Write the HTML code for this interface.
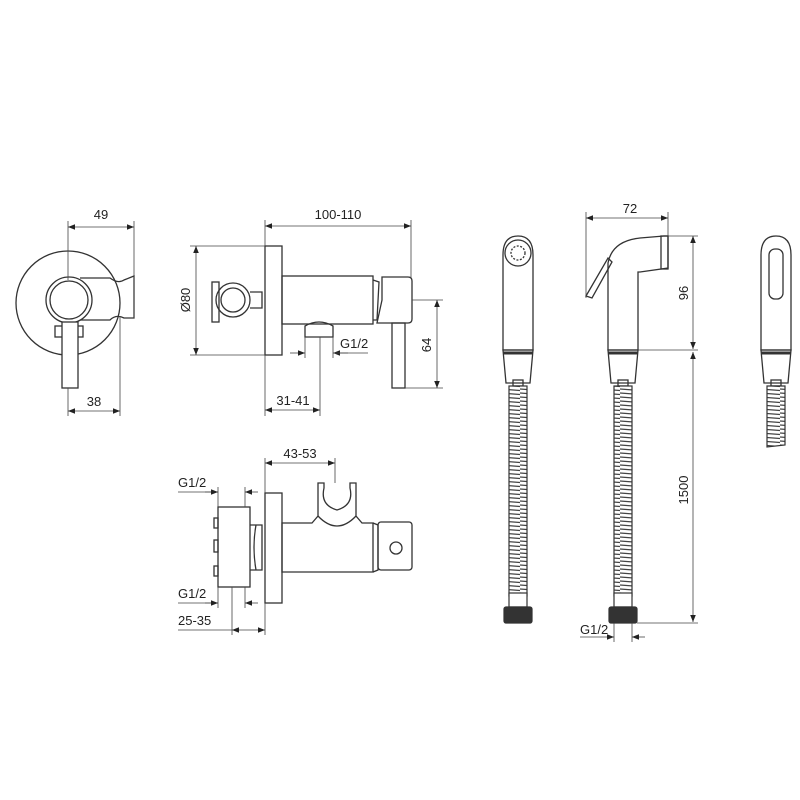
<!DOCTYPE html>
<html><head><meta charset="utf-8"><style>
html,body{margin:0;padding:0;background:#fff}
svg{display:block}
text{font-family:"Liberation Sans",sans-serif;font-size:13px;fill:#222}
</style></head><body>
<svg width="800" height="800" viewBox="0 0 800 800" xmlns="http://www.w3.org/2000/svg">
<defs>
<marker id="a" viewBox="0 0 10 10" refX="10" refY="5" markerWidth="9" markerHeight="7" orient="auto-start-reverse" markerUnits="userSpaceOnUse"><path d="M0,1 L10,5 L0,9 z" fill="#222"/></marker>
<pattern id="hose" width="20" height="4" patternUnits="userSpaceOnUse"><rect width="20" height="4" fill="#fff"/><line x1="0" y1="1" x2="20" y2="2.5" stroke="#444" stroke-width="1.3"/></pattern>
</defs>
<g fill="none" stroke="#333" stroke-width="1.3">
<circle cx="68" cy="303" r="52"/>
<path d="M80,278 L110,278 Q118,284 124,280 L134,276 L134,318 L124,318 Q116,314 110,320 L80,320"/>
<circle cx="69" cy="300" r="23" fill="#fff"/>
<circle cx="69" cy="300" r="19"/>
<rect x="55" y="326" width="8" height="11"/>
<rect x="75" y="326" width="8" height="11"/>
<rect x="62" y="322" width="16" height="66" fill="#fff"/>
<rect x="265" y="246" width="17" height="109"/>
<rect x="282" y="276" width="91" height="48"/>
<path d="M373,280 L379,282 L377,320 L373,320"/>
<path d="M382,277 L408,277 Q412,277 412,281 L412,319 Q412,323 408,323 L377,323 L382,300 Z"/>
<rect x="392" y="323" width="13" height="65"/>
<rect x="212" y="282" width="7" height="40"/>
<circle cx="233" cy="300" r="17"/>
<circle cx="233" cy="300" r="12"/>
<path d="M250,292 L262,292 L262,308 L250,308"/>
<path d="M305,337 L305,326 Q319,318 333,326 L333,337 Z"/>
<rect x="218" y="507" width="32" height="80"/>
<rect x="214" y="518" width="4" height="10"/><rect x="214" y="540" width="4" height="12"/><rect x="214" y="566" width="4" height="10"/>
<path d="M250,525 L262,525 L262,570 L250,570 M256,525 Q252,547 256,570"/>
<rect x="265" y="493" width="17" height="110"/>
<path d="M282,523 L312,523 L318,516 L318,483 L324,483 L324,488 Q320,505 337,510 Q354,505 350,488 L350,483 L356,483 L356,516 L362,523 L373,523 L373,572 L282,572 Z"/>
<path d="M318,516 Q337,536 356,516"/>
<path d="M373,523 L378,525 L378,570 L373,572"/>
<rect x="378" y="522" width="34" height="48" rx="3"/>
<circle cx="396" cy="548" r="6"/>
<path d="M503,350 L503,255 Q503,236 518,236 Q533,236 533,255 L533,350 Z"/>
<circle cx="518" cy="253" r="13"/><circle cx="518" cy="253" r="7" stroke-dasharray="2 1.5"/>
<path d="M503,350 L533,350 L530,383 L506,383 Z"/><line x1="503" y1="353" x2="533" y2="353" stroke-width="3"/>
<rect x="513" y="380" width="10" height="6"/>
<path d="M608,350 L608,263 Q612,241 640,238 L664,236 L668,236 L668,268 L640,272 L638,272 L638,350 Z"/>
<rect x="661" y="236" width="7" height="33"/>
<path d="M586,296 L608,258 L612,262 L592,298 Z"/>
<path d="M608,350 L638,350 L635,383 L611,383 Z"/><line x1="608" y1="353" x2="638" y2="353" stroke-width="3"/>
<rect x="618" y="380" width="10" height="6"/>
<path d="M761,350 L761,255 Q761,236 776,236 Q791,236 791,255 L791,350 Z"/>
<rect x="769" y="249" width="14" height="50" rx="6"/>
<path d="M761,350 L791,350 L788,383 L764,383 Z"/><line x1="761" y1="353" x2="791" y2="353" stroke-width="3"/>
<rect x="771" y="380" width="10" height="6"/>
</g>
<g stroke="#333" stroke-width="1.2">
<rect x="509" y="386" width="18" height="210" fill="url(#hose)"/>
<rect x="614" y="386" width="18" height="210" fill="url(#hose)"/>
<path d="M767,386 L785,386 L785,445 L767,447 Z" fill="url(#hose)"/>
<rect x="509" y="593" width="18" height="14" fill="#fff"/>
<rect x="614" y="593" width="18" height="14" fill="#fff"/>
<rect x="504" y="607" width="28" height="16" rx="2" fill="#333"/>
<rect x="609" y="607" width="28" height="16" rx="2" fill="#333"/>
</g>
<g fill="none" stroke="#444" stroke-width="0.8">
<line x1="68" y1="221" x2="68" y2="280"/><line x1="134" y1="221" x2="134" y2="318"/>
<line x1="68" y1="227" x2="134" y2="227" marker-start="url(#a)" marker-end="url(#a)"/>
<line x1="68" y1="388" x2="68" y2="416"/><line x1="120" y1="316" x2="120" y2="416"/>
<line x1="68" y1="411" x2="120" y2="411" marker-start="url(#a)" marker-end="url(#a)"/>
<line x1="265" y1="220" x2="265" y2="246"/><line x1="411" y1="220" x2="411" y2="278"/>
<line x1="265" y1="226" x2="411" y2="226" marker-start="url(#a)" marker-end="url(#a)"/>
<line x1="190" y1="246" x2="265" y2="246"/><line x1="190" y1="355" x2="265" y2="355"/>
<line x1="196" y1="246" x2="196" y2="355" marker-start="url(#a)" marker-end="url(#a)"/>
<line x1="412" y1="300" x2="443" y2="300"/><line x1="405" y1="388" x2="443" y2="388"/>
<line x1="437" y1="300" x2="437" y2="388" marker-start="url(#a)" marker-end="url(#a)"/>
<line x1="305" y1="337" x2="305" y2="358"/><line x1="333" y1="337" x2="333" y2="358"/>
<line x1="290" y1="353" x2="305" y2="353" marker-end="url(#a)"/><line x1="348" y1="353" x2="333" y2="353" marker-end="url(#a)"/>
<line x1="333" y1="353" x2="368" y2="353"/>
<line x1="265" y1="355" x2="265" y2="416"/><line x1="320" y1="337" x2="320" y2="416"/>
<line x1="265" y1="410" x2="320" y2="410" marker-start="url(#a)" marker-end="url(#a)"/>
<line x1="265" y1="458" x2="265" y2="493"/><line x1="335" y1="458" x2="335" y2="483"/>
<line x1="265" y1="463" x2="335" y2="463" marker-start="url(#a)" marker-end="url(#a)"/>
<line x1="218" y1="487" x2="218" y2="507"/><line x1="245" y1="487" x2="245" y2="507"/>
<line x1="178" y1="492" x2="218" y2="492"/>
<line x1="205" y1="492" x2="218" y2="492" marker-end="url(#a)"/><line x1="258" y1="492" x2="245" y2="492" marker-end="url(#a)"/>
<line x1="218" y1="587" x2="218" y2="608"/><line x1="245" y1="587" x2="245" y2="608"/><line x1="232" y1="587" x2="232" y2="635"/>
<line x1="178" y1="603" x2="218" y2="603"/>
<line x1="205" y1="603" x2="218" y2="603" marker-end="url(#a)"/><line x1="258" y1="603" x2="245" y2="603" marker-end="url(#a)"/>
<line x1="265" y1="603" x2="265" y2="635"/>
<line x1="178" y1="630" x2="232" y2="630"/>
<line x1="232" y1="630" x2="265" y2="630" marker-start="url(#a)" marker-end="url(#a)"/>
<line x1="586" y1="212" x2="586" y2="298"/><line x1="668" y1="212" x2="668" y2="236"/>
<line x1="586" y1="218" x2="668" y2="218" marker-start="url(#a)" marker-end="url(#a)"/>
<line x1="668" y1="236" x2="698" y2="236"/><line x1="638" y1="350" x2="698" y2="350"/>
<line x1="693" y1="236" x2="693" y2="349" marker-start="url(#a)" marker-end="url(#a)"/>
<line x1="693" y1="352" x2="693" y2="622" marker-start="url(#a)" marker-end="url(#a)"/>
<line x1="637" y1="623" x2="698" y2="623"/>
<line x1="614" y1="623" x2="614" y2="642"/><line x1="632" y1="623" x2="632" y2="642"/>
<line x1="580" y1="637" x2="614" y2="637" marker-end="url(#a)"/><line x1="645" y1="637" x2="632" y2="637" marker-end="url(#a)"/>
</g>
<text x="101" y="219" text-anchor="middle">49</text>
<text x="94" y="406" text-anchor="middle">38</text>
<text x="338" y="219" text-anchor="middle">100-110</text>
<text x="0" y="0" text-anchor="middle" transform="translate(190,300) rotate(-90)">Ø80</text>
<text x="0" y="0" text-anchor="middle" transform="translate(431,345) rotate(-90)">64</text>
<text x="340" y="348">G1/2</text>
<text x="293" y="405" text-anchor="middle">31-41</text>
<text x="300" y="458" text-anchor="middle">43-53</text>
<text x="178" y="487">G1/2</text>
<text x="178" y="598">G1/2</text>
<text x="178" y="625">25-35</text>
<text x="630" y="213" text-anchor="middle">72</text>
<text x="0" y="0" text-anchor="middle" transform="translate(688,293) rotate(-90)">96</text>
<text x="0" y="0" text-anchor="middle" transform="translate(688,490) rotate(-90)">1500</text>
<text x="580" y="634">G1/2</text>
</svg>
</body></html>
